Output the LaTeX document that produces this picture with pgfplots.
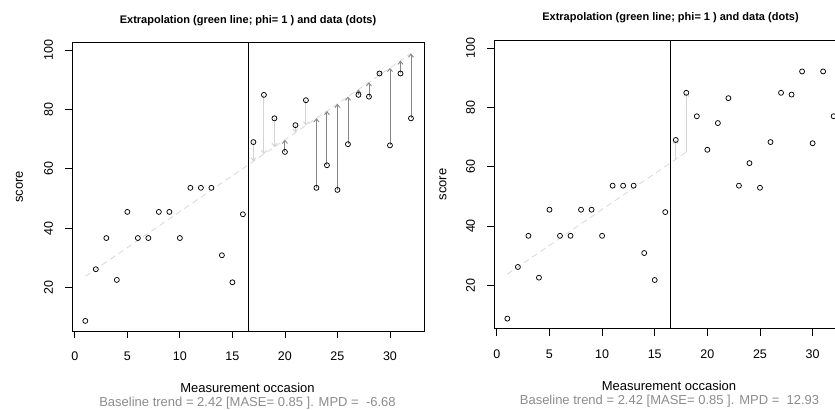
\documentclass[border=0pt]{standalone}
\usepackage{fontspec}
\setmainfont{Liberation Sans}
\usepackage{pgfplots}
\usepackage{pgfplotstable}
\pgfplotsset{compat=1.18}
\usetikzlibrary{arrows.meta}

\definecolor{lightseg}{RGB}{212,212,212}
\definecolor{darkseg}{RGB}{135,135,135}
\definecolor{trendcol}{RGB}{220,220,220}
\definecolor{subgray}{RGB}{140,140,140}

% observed scores, phases A (1-16) and B (17-32)
\pgfplotstableread{
x y
1 8.8
2 26.2
3 36.7
4 22.6
5 45.5
6 36.7
7 36.7
8 45.5
9 45.5
10 36.7
11 53.6
12 53.6
13 53.6
14 30.9
15 21.8
16 44.7
17 69.0
18 84.9
19 77.0
20 65.7
21 74.7
22 83.1
23 53.6
24 61.2
25 52.9
26 68.3
27 84.9
28 84.3
29 92.1
30 67.9
31 92.1
32 77.0
}\scores

% residual arrows, point -> trend (left panel)
\pgfplotstableread{
x y dy
17 69.0 -6.48
18 84.9 -19.96
19 77.0 -9.64
21 74.7 -2.50
22 83.1 -8.48
29 92.1 -0.54
}\above
\pgfplotstableread{
x y dy
20 65.7 4.08
23 53.6 23.44
24 61.2 18.26
25 52.9 28.98
26 68.3 16.00
27 84.9 1.82
28 84.3 4.84
30 67.9 26.08
31 92.1 4.30
32 77.0 21.82
}\below
% trend -> point (right panel)
\pgfplotstableread{
x y dy
17 62.52 6.48
18 64.94 19.96
}\rightsegs

\pgfplotsset{
  rpanel/.style={
    scale only axis, anchor=south west,
    xmin=-0.24, xmax=33.24, ymin=5.4, ymax=102.6,
    axis line style={line width=0.8bp},
    tick pos=left, tick align=outside, major tick length=7bp,
    tick style={black, line width=0.8bp},
    xtick={0,5,...,30}, ytick={20,40,...,100},
    ticklabel style={font=\fontsize{12.5bp}{14bp}\selectfont, inner sep=0pt},
    /pgf/number format/assume math mode=true,
    xticklabel style={anchor=north},
    yticklabel style={rotate=90, anchor=south},
    xticklabel shift=14bp, yticklabel shift=12bp,
  },
  pts/.style={only marks, mark=o, black, mark size=2.5bp,
    mark options={line width=0.75bp}},
  trend/.style={trendcol, line width=0.9bp, dash pattern=on 6bp off 4bp},
  seg/.style={line width=0.9bp, -{Straight Barb[length=3bp,width=5bp]}},
}
\newcommand{\ttl}{\fontsize{11bp}{13bp}\selectfont\bfseries}
\newcommand{\lbl}{\fontsize{13bp}{15bp}\selectfont}

\begin{document}
\begin{tikzpicture}
\begin{axis}[rpanel, at={(72.3bp,79bp)}, width=351.7bp, height=288.7bp]
\addplot[trend] coordinates {(1,23.8) (32,98.82)};
\addplot[seg, lightseg, quiver={u=0, v=\thisrow{dy}}] table[x=x, y=y] {\above};
\addplot[seg, darkseg, quiver={u=0, v=\thisrow{dy}}] table[x=x, y=y] {\below};
\addplot[black, line width=0.8bp] coordinates {(16.5,5.4) (16.5,102.6)};
\addplot[pts] table[x=x, y=y] {\scores};
\end{axis}

\begin{axis}[rpanel, at={(494.3bp,81.3bp)}, width=352.4bp, height=288.4bp]
\addplot[trend] coordinates {(1,23.8) (18,64.94)};
\addplot[seg, lightseg, quiver={u=0, v=\thisrow{dy}}] table[x=x, y=y] {\rightsegs};
\addplot[black, line width=0.8bp] coordinates {(16.5,5.4) (16.5,102.6)};
\addplot[pts] table[x=x, y=y] {\scores};
\end{axis}

% titles and labels
\node[anchor=base] at (248bp,386.7bp) {\ttl Extrapolation (green line; phi= 1 ) and data (dots)};
\node[anchor=base] at (247.5bp,17.3bp) {\lbl Measurement occasion};
\node[anchor=base, text=subgray] at (247.5bp,3.5bp) {\lbl Baseline trend = 2.42 [MASE= 0.85 ]. MPD = \ -6.68};
\node[anchor=south, rotate=90, inner sep=0pt] at (23.3bp,223.3bp) {\lbl score};

\node[anchor=base] at (670.5bp,389.3bp) {\ttl Extrapolation (green line; phi= 1 ) and data (dots)};
\node[anchor=base] at (669bp,20bp) {\lbl Measurement occasion};
\node[anchor=base, text=subgray] at (669.5bp,5.5bp) {\lbl Baseline trend = 2.42 [MASE= 0.85 ]. MPD = \ 12.93};
\node[anchor=south, rotate=90, inner sep=0pt] at (446.7bp,225.5bp) {\lbl score};

\pgfresetboundingbox
\path (0,0) rectangle (835bp,410bp);
\end{tikzpicture}
\end{document}
